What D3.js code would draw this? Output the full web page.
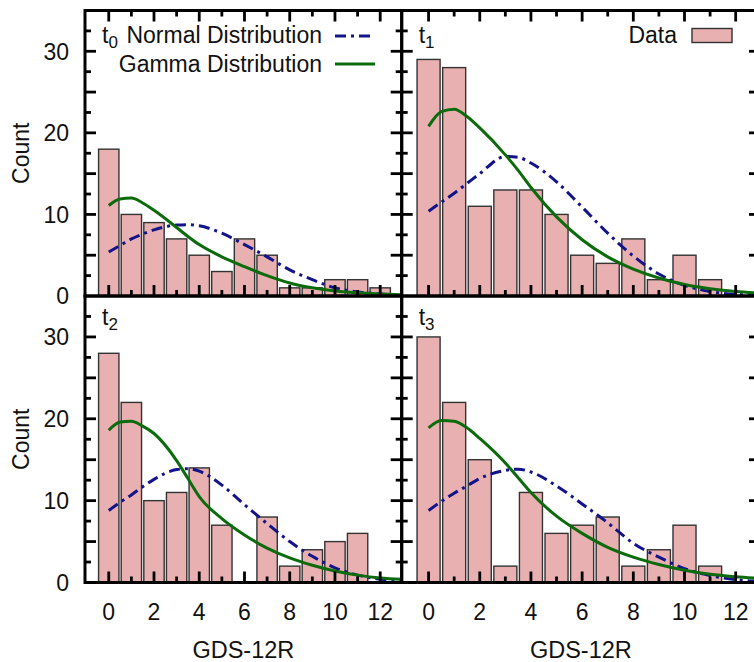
<!DOCTYPE html>
<html>
<head>
<meta charset="utf-8">
<script src="https://cdn.jsdelivr.net/npm/d3@7"></script>
<style>
body { margin: 0; background: #fff; }
text { font-family: "Liberation Sans", Arial, sans-serif; fill: #111; }
</style>
</head>
<body>
<script>
// histogram bins (GDS-12R score) and counts per time point
const bins = [0, 1, 2, 3, 4, 5, 6, 7, 8, 9, 10, 11, 12]
const panelNames = ["0", "1", "2", "3"]
const counts = [
    [18, 10, 9, 7, 5, 3, 7, 5, 1, 1, 2, 2, 1],
    [29, 28, 11, 13, 13, 10, 5, 4, 7, 2, 5, 2, 0],
    [28, 22, 10, 11, 14, 7, 0, 8, 2, 4, 5, 6, 0],
    [30, 22, 15, 2, 11, 6, 7, 8, 2, 4, 7, 2, 0]
]

// fitted curves at these x positions
const curveX = [0, 0.5, 1, 1.5, 2, 3, 3.5, 4, 5, 6, 7, 8, 9, 10, 11, 12, 12.95]
const normalY = [
    [5.4, 6.2, 7.0, 7.6, 8.1, 8.7, 8.75, 8.6, 7.7, 6.3, 4.8, 3.2, 2.0, 1.0, 0.5, 0.25, 0.1],
    [10.4, 11.5, 12.6, 13.8, 15.0, 17.1, 17.0, 16.3, 14.0, 10.9, 7.7, 4.9, 2.7, 1.3, 0.55, 0.2, 0.1],
    [8.8, 9.8, 10.7, 11.7, 12.6, 13.8, 13.9, 13.6, 11.9, 9.5, 7.2, 5.0, 3.2, 1.8, 0.9, 0.4, 0.2],
    [8.8, 9.9, 10.9, 11.8, 12.7, 13.7, 13.85, 13.5, 11.8, 9.6, 7.3, 4.8, 3.1, 1.7, 0.85, 0.35, 0.15]
]
const gammaY = [
    [11.1, 11.9, 12.0, 11.4, 10.5, 8.4, 7.3, 6.3, 4.8, 3.6, 2.5, 1.6, 1.0, 0.6, 0.4, 0.25, 0.15],
    [20.8, 22.6, 22.9, 22.0, 20.6, 17.3, 15.4, 13.3, 9.7, 6.9, 4.8, 3.3, 2.2, 1.4, 0.9, 0.55, 0.35],
    [18.6, 19.6, 19.7, 19.1, 18.2, 14.9, 12.7, 10.5, 7.8, 5.8, 4.2, 3.0, 2.1, 1.4, 0.9, 0.55, 0.4],
    [18.9, 19.8, 19.7, 18.9, 17.6, 14.6, 12.8, 11.0, 8.1, 6.0, 4.3, 3.1, 2.2, 1.5, 1.0, 0.7, 0.5]
]

const xTickLabels = [0, 2, 4, 6, 8, 10, 12]
const xMinor = [1, 3, 5, 7, 9, 11]
const yTickLabels = [0, 10, 20, 30]
const yMajor = [5, 10, 15, 20, 25, 30]
const yMinor = [2.5, 7.5, 12.5, 17.5, 22.5, 27.5, 32.5]

const barFill = "#e8b0b0"
const blue = "#14148a"
const green = "#0c6b0c"
const dash = "11,5,3,5"

const svg = d3.select("body").append("svg")
    .attr("width", 754)
    .attr("height", 662)

const cols = [[85, 401.7], [401.7, 760]]
const rows = [[10.5, 296], [296, 582.5]]

const defs = svg.append("defs")

panelNames.forEach((name, i) => {
    const c = i % 2, r = Math.floor(i / 2)
    const x = d3.scaleLinear().domain([-1.05, 12.95]).range(cols[c])
    const y = d3.scaleLinear().domain([0, 35]).range([rows[r][1], rows[r][0]])
    const g = svg.append("g")

    defs.append("clipPath").attr("id", "clip" + i)
        .append("rect")
        .attr("x", cols[c][0]).attr("y", rows[r][0])
        .attr("width", cols[c][1] - cols[c][0])
        .attr("height", rows[r][1] - rows[r][0])

    // bars
    g.selectAll("rect.bar")
        .data(bins.map((b, k) => ({ b: b, v: counts[i][k] })).filter(d => d.v > 0))
        .enter()
        .append("rect")
        .attr("class", "bar")
        .attr("x", d => x(d.b - 0.45))
        .attr("width", d => x(d.b + 0.45) - x(d.b - 0.45))
        .attr("y", d => y(d.v))
        .attr("height", d => y(0) - y(d.v))
        .style("fill", barFill)
        .style("stroke", "#333")
        .style("stroke-width", 1.4)

    const line = d3.line()
        .x(d => x(d[0]))
        .y(d => y(d[1]))
        .curve(d3.curveMonotoneX)

    const curves = g.append("g").attr("clip-path", "url(#clip" + i + ")")
    curves.append("path")
        .attr("d", line(curveX.map((v, k) => [v, normalY[i][k]])))
        .style("fill", "none")
        .style("stroke", blue)
        .style("stroke-width", 3)
        .style("stroke-dasharray", dash)
    curves.append("path")
        .attr("d", line(curveX.map((v, k) => [v, gammaY[i][k]])))
        .style("fill", "none")
        .style("stroke", green)
        .style("stroke-width", 3)

    // ticks, all pointing inward
    const ticks = g.append("g").style("stroke", "#000").style("stroke-width", 2.8)
    const x0 = cols[c][0], x1 = cols[c][1], yTop = rows[r][0], yBot = rows[r][1]
    const tickX = xTickLabels.map(v => [v, 11]).concat(xMinor.map(v => [v, 6]))
    tickX.forEach(t => {
        ticks.append("line").attr("x1", x(t[0])).attr("x2", x(t[0]))
            .attr("y1", yBot).attr("y2", yBot - t[1])
        if (r === 0) {
            ticks.append("line").attr("x1", x(t[0])).attr("x2", x(t[0]))
                .attr("y1", yTop).attr("y2", yTop + t[1])
        }
    })
    const tickY = yMajor.map(v => [v, 11]).concat(yMinor.map(v => [v, 6]))
    tickY.forEach(t => {
        ticks.append("line").attr("y1", y(t[0])).attr("y2", y(t[0]))
            .attr("x1", x0).attr("x2", x0 + t[1])
        ticks.append("line").attr("y1", y(t[0])).attr("y2", y(t[0]))
            .attr("x1", x1).attr("x2", x1 - t[1])
    })

    // frame
    g.append("rect")
        .attr("x", x0).attr("y", yTop)
        .attr("width", x1 - x0).attr("height", yBot - yTop)
        .style("fill", "none")
        .style("stroke", "#000")
        .style("stroke-width", 3)

    // tick labels
    if (c === 0) {
        g.selectAll("text.ylab")
            .data(yTickLabels)
            .enter()
            .append("text")
            .attr("x", 69)
            .attr("y", d => y(d))
            .attr("dy", "0.36em")
            .attr("text-anchor", "end")
            .style("font-size", "23px")
            .text(d => d)
        g.append("text")
            .attr("transform", "translate(29," + ((yTop + yBot) / 2) + ") rotate(-90)")
            .attr("text-anchor", "middle")
            .style("font-size", "23px")
            .text("Count")
    }
    if (r === 1) {
        g.selectAll("text.xlab")
            .data(xTickLabels)
            .enter()
            .append("text")
            .attr("x", d => x(d))
            .attr("y", 620)
            .attr("text-anchor", "middle")
            .style("font-size", "23px")
            .text(d => d)
        g.append("text")
            .attr("x", (x0 + x1) / 2)
            .attr("y", 658)
            .attr("text-anchor", "middle")
            .style("font-size", "23.5px")
            .text("GDS-12R")
    }

    // panel label t0..t3
    const lab = g.append("text")
        .attr("x", x0 + 17)
        .attr("y", r === 0 ? 43 : 325)
        .style("font-size", "23px")
    lab.append("tspan").text("t")
    lab.append("tspan").attr("dy", 5).style("font-size", "17px").text(name)
})

// legends
const leg = svg.append("g")
leg.append("text").attr("x", 322).attr("y", 43).attr("text-anchor", "end")
    .style("font-size", "23px").text("Normal Distribution")
leg.append("line").attr("x1", 335).attr("x2", 374).attr("y1", 36).attr("y2", 36)
    .style("stroke", blue).style("stroke-width", 3).style("stroke-dasharray", dash)
leg.append("text").attr("x", 322).attr("y", 71.5).attr("text-anchor", "end")
    .style("font-size", "23px").text("Gamma Distribution")
leg.append("line").attr("x1", 335).attr("x2", 375).attr("y1", 64).attr("y2", 64)
    .style("stroke", green).style("stroke-width", 3)

leg.append("text").attr("x", 677).attr("y", 43).attr("text-anchor", "end")
    .style("font-size", "23px").text("Data")
leg.append("rect").attr("x", 692).attr("y", 28.5).attr("width", 40).attr("height", 14)
    .style("fill", barFill).style("stroke", "#333").style("stroke-width", 1.4)
</script>
</body>
</html>
